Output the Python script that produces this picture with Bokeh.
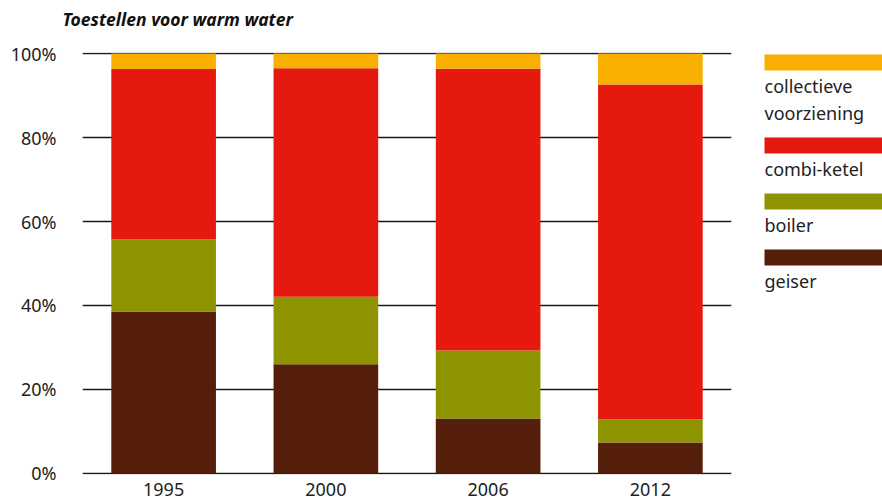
from bokeh.plotting import figure
from bokeh.layouts import row, column
from bokeh.models import FactorRange, Range1d, PrintfTickFormatter, FixedTicker
from bokeh.core.properties import value
from bokeh.embed import file_html
from bokeh.resources import INLINE

# ---- data ----
years = ["1995", "2000", "2006", "2012"]
series = ["geiser", "boiler", "combi-ketel", "collectieve voorziening"]
geiser = [38.6, 26.0, 13.1, 7.4]
boiler = [17.1, 16.1, 16.2, 5.5]
combi = [40.6, 54.4, 67.1, 79.7]
collectief = [3.7, 3.5, 3.6, 7.4]
colors = ["#541E0A", "#8D9400", "#E5190D", "#F9AF00"]
y_ticks = [0, 20, 40, 60, 80, 100]
legend_lines = [["collectieve", "voorziening"], ["combi-ketel"], ["boiler"], ["geiser"]]
legend_colors = ["#F9AF00", "#E5190D", "#8D9400", "#541E0A"]
title_text = "Toestellen voor warm water"

FONT = "Noto Sans"
TXT = "#222222"

def bare(fig):
    fig.axis.visible = False
    fig.grid.visible = False
    fig.outline_line_color = None
    return fig

# ---- title strip ----
TH = 30
tf = bare(figure(x_range=Range1d(0, 882), y_range=Range1d(TH, 0), width=882, height=TH,
                 output_backend="svg", toolbar_location=None,
                 min_border_left=0, min_border_right=0, min_border_top=0, min_border_bottom=0))
tf.text(x=[62], y=[18], text=[title_text], text_font=value(FONT), text_font_style="bold italic",
        text_font_size="17.5px", text_color="#111111", text_baseline="alphabetic", text_align="left")

# ---- main chart ----
data = dict(year=years)
for name, vals in zip(series, [geiser, boiler, combi, collectief]):
    data[name] = vals

H = 503 - TH
p = figure(x_range=FactorRange(factors=years, range_padding=0),
           y_range=Range1d(-0.24, 100.24),
           width=740, height=H, output_backend="svg", toolbar_location=None,
           min_border_left=82, min_border_right=9, min_border_top=52 - TH, min_border_bottom=29)
p.vbar_stack(series, x="year", width=0.645, source=data, color=colors, line_width=0)

p.outline_line_color = None
p.xgrid.grid_line_color = None
p.ygrid.grid_line_color = "#1a1a1a"
p.ygrid.grid_line_width = 1.4
p.yaxis.ticker = FixedTicker(ticks=y_ticks)
p.yaxis.formatter = PrintfTickFormatter(format="%d%%")
for ax in (p.xaxis[0], p.yaxis[0]):
    ax.axis_line_color = None
    ax.major_tick_line_color = None
    ax.minor_tick_line_color = None
    ax.major_tick_in = 0
    ax.major_tick_out = 0
    ax.major_label_text_font = FONT
    ax.major_label_text_font_size = "18px"
    ax.major_label_text_color = TXT
p.yaxis.major_label_standoff = 26
p.xaxis.major_label_standoff = 8

# ---- legend figure (frame aligned with main frame; y in page pixels) ----
lg = bare(figure(x_range=Range1d(0, 142), y_range=Range1d(474, 52), width=142, height=H,
                 output_backend="svg", toolbar_location=None,
                 min_border_left=0, min_border_right=0, min_border_top=52 - TH, min_border_bottom=29))
sw_top = [54, 137, 193, 249]
lg.quad(left=24, right=142, top=sw_top, bottom=[t + 16 for t in sw_top], color=legend_colors, line_width=0)
tx, ty = [], []
for t, lines in zip(sw_top, legend_lines):
    for i, ln in enumerate(lines):
        tx.append(ln)
        ty.append(t + 31 + 27 * i)
lg.text(x=24, y=ty, text=tx, text_font=value(FONT), text_font_size="18px",
        text_color=TXT, text_baseline="alphabetic", text_align="left")

layout = column(tf, row(p, lg, spacing=0), spacing=0)
open("out.html", "w").write(file_html(layout, INLINE))
